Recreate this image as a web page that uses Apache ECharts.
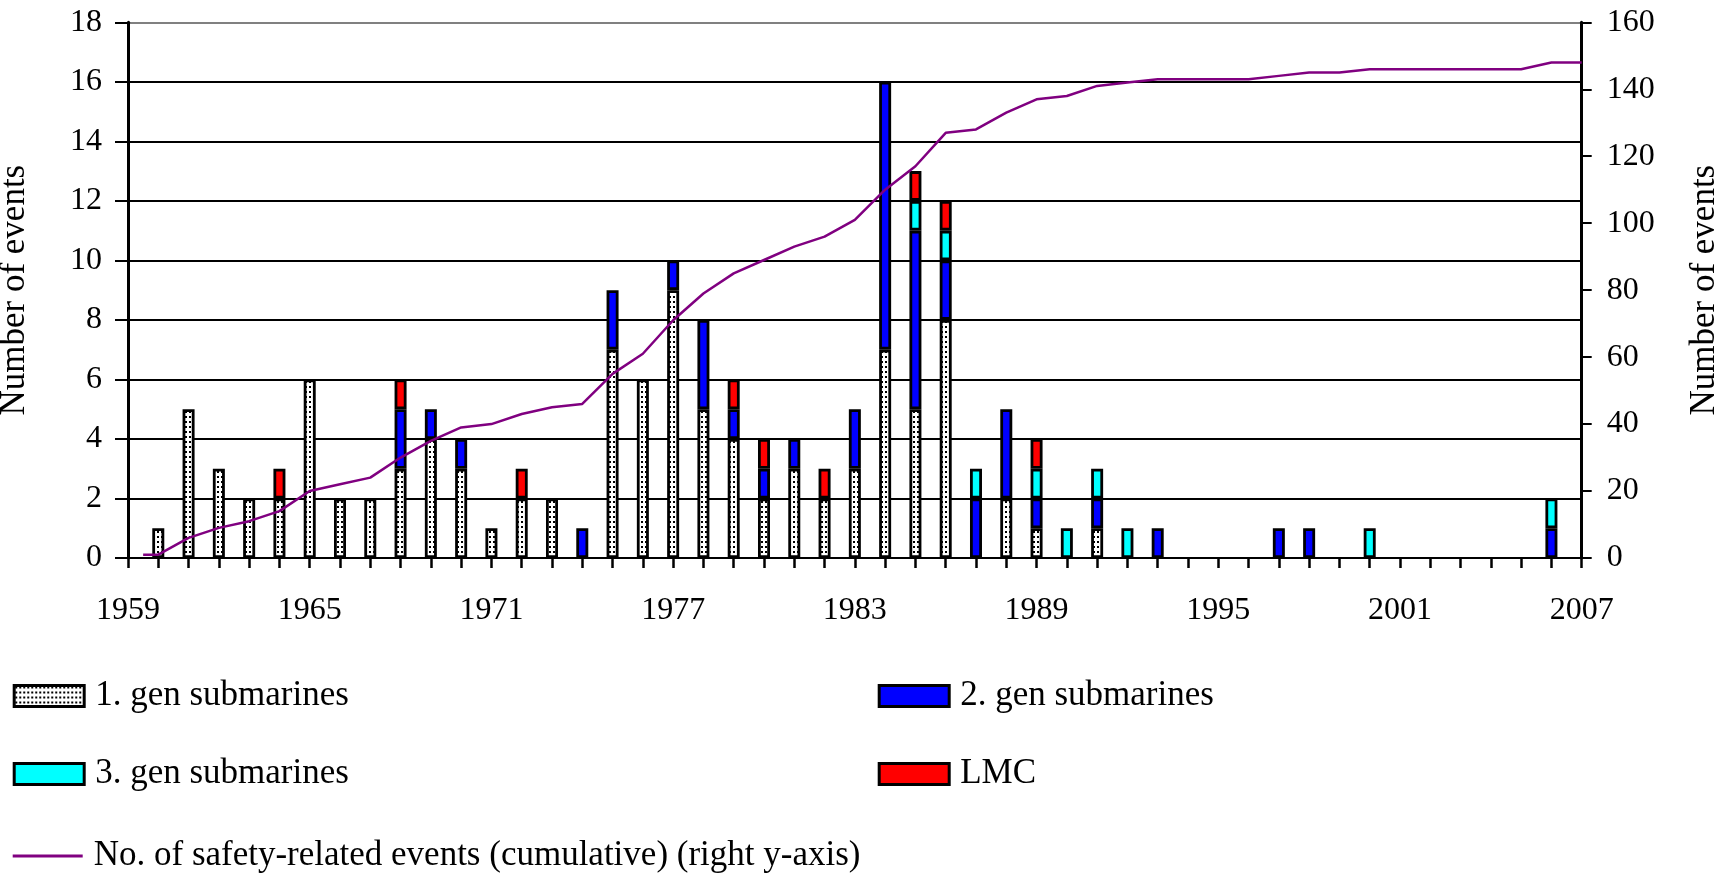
<!DOCTYPE html>
<html>
<head>
<meta charset="utf-8">
<script src="https://cdn.jsdelivr.net/npm/echarts@6/dist/echarts.min.js"></script>
<style>
html,body{margin:0;padding:0;background:#ffffff;}
#chart{width:1718px;height:874px;}
</style>
</head>
<body>
<div id="chart"></div>
<script>
// ---------- data ----------
const years = ['1959',
  '1960','1961','1962','1963','1964','1965','1966','1967','1968','1969',
  '1970','1971','1972','1973','1974','1975','1976','1977','1978','1979',
  '1980','1981','1982','1983','1984','1985','1986','1987','1988','1989',
  '1990','1991','1992','1993','1994','1995','1996','1997','1998','1999',
  '2000','2001','2002','2003','2004','2005','2006','2007'];

const gen1 = [0,
  1,5,3,2,2,6,2,2,3,4,
  3,1,2,2,0,7,6,9,5,4,
  2,3,2,3,7,5,8,0,2,1,
  0,1,0,0,0,0,0,0,0,0,
  0,0,0,0,0,0,0,0];
const gen2 = [0,
  0,0,0,0,0,0,0,0,2,1,
  1,0,0,0,1,2,0,1,3,1,
  1,1,0,2,9,6,2,2,3,1,
  0,1,0,1,0,0,0,1,1,0,
  0,0,0,0,0,0,1,0];
const gen3 = [0,
  0,0,0,0,0,0,0,0,0,0,
  0,0,0,0,0,0,0,0,0,0,
  0,0,0,0,0,1,1,1,0,1,
  1,1,1,0,0,0,0,0,0,0,
  1,0,0,0,0,0,1,0];
const lmc = [0,
  0,0,0,0,1,0,0,0,1,0,
  0,0,1,0,0,0,0,0,0,1,
  1,0,1,0,0,1,1,0,0,1,
  0,0,0,0,0,0,0,0,0,0,
  0,0,0,0,0,0,0,0];

const cumYears = [1959.5,
  1960,1961,1962,1963,1964,1965,1966,1967,1968,1969,
  1970,1971,1972,1973,1974,1975,1976,1977,1978,1979,
  1980,1981,1982,1983,1984,1985,1986,1987,1988,1989,
  1990,1991,1992,1993,1994,1995,1996,1997,1998,1999,
  2000,2001,2002,2003,2004,2005,2006,2007];
const cumEvents = [1,
  1,6,9,11,14,20,22,24,30,35,
  39,40,43,45,46,55,61,71,79,85,
  89,93,96,101,110,117,127,128,133,137,
  138,141,142,143,143,143,143,144,145,145,
  146,146,146,146,146,146,148,148];

const xTickLabels = ['1959','1965','1971','1977','1983','1989','1995','2001','2007'];
const leftTicks = [0,2,4,6,8,10,12,14,16,18];
const rightTicks = [0,20,40,60,80,100,120,140,160];

const seriesNames = ['1. gen submarines','2. gen submarines','3. gen submarines','LMC'];
const lineName = 'No. of safety-related events (cumulative) (right y-axis)';
const axisTitle = 'Number of events';

// ---------- styles ----------
const FONT = "'Liberation Serif', 'Times New Roman', serif";
const pc = document.createElement('canvas');
pc.width = 4; pc.height = 5;
const pg = pc.getContext('2d');
pg.fillStyle = '#ffffff'; pg.fillRect(0, 0, 4, 5);
pg.fillStyle = '#000000'; pg.fillRect(1, 1, 2, 2);
const dotPattern = {image: pc, repeat: 'repeat'};

const fills = [dotPattern, '#0000ff', '#00ffff', '#ff0000'];
const barValues = [gen1, gen2, gen3, lmc];

const toData = arr => arr.map(v => (v > 0 ? v : '-'));

const barSeries = seriesNames.map((name, i) => ({
  name: name,
  type: 'bar',
  stack: 'events',
  xAxisIndex: 0,
  yAxisIndex: 0,
  barWidth: 12,
  data: toData(barValues[i]),
  itemStyle: {color: fills[i], borderColor: '#000000', borderWidth: 2.8},
  emphasis: {disabled: true},
  z: 2
}));

const lineSeries = {
  name: lineName,
  type: 'line',
  xAxisIndex: 1,
  yAxisIndex: 1,
  data: cumYears.map((y, i) => [y, cumEvents[i]]),
  symbol: 'none',
  showSymbol: false,
  lineStyle: {color: '#800080', width: 2.5},
  itemStyle: {color: '#800080'},
  emphasis: {disabled: true},
  z: 5
};

const gridColors = leftTicks.map((t, i) => (i === leftTicks.length - 1 ? '#808080' : '#000000'));

const legendText = {fontFamily: FONT, fontSize: 35, color: '#000000', lineHeight: 35, padding: [0, 0, 0, 6]};
function mkLegend(item, left, top, h, bw) {
  return {
    data: [item], left: left, top: top, padding: 0, itemGap: 0,
    icon: 'rect',
    itemWidth: 70, itemHeight: h, selectedMode: false,
    itemStyle: {borderColor: '#000000', borderWidth: bw},
    textStyle: legendText
  };
}

const option = {
  animation: false,
  backgroundColor: '#ffffff',
  grid: {left: 128, right: 136.3, top: 22.3, bottom: 316, containLabel: false, outerBoundsMode: 'none'},
  legend: [
    mkLegend(seriesNames[0], 12.7, 678.5, 21, 3),
    mkLegend(seriesNames[1], 877.7, 678.5, 21, 3),
    mkLegend(seriesNames[2], 12.7, 756.5, 21, 3),
    mkLegend(seriesNames[3], 877.7, 756.5, 21, 3),
    mkLegend({name: lineName, icon: 'rect', itemStyle: {color: '#800080', borderWidth: 0}}, 12.7, 838.5, 3, 0)
  ],
  xAxis: [{
    type: 'category',
    data: years,
    boundaryGap: false,
    axisLine: {show: true, lineStyle: {color: '#000000', width: 2}},
    axisTick: {show: true, interval: 0, length: 10, lineStyle: {color: '#000000', width: 2.5}},
    axisLabel: {
      interval: (idx, val) => xTickLabels.indexOf(val) >= 0,
      fontFamily: FONT, fontSize: 32, color: '#000000', margin: 37
    },
    splitLine: {show: false}
  }, {
    type: 'value',
    min: 1959, max: 2007,
    show: false,
    splitLine: {show: false}
  }],
  yAxis: [{
    type: 'value',
    position: 'left',
    min: leftTicks[0], max: leftTicks[leftTicks.length - 1], interval: leftTicks[1] - leftTicks[0],
    axisLine: {show: true, lineStyle: {color: '#000000', width: 3}},
    axisTick: {show: true, length: 13, lineStyle: {color: '#000000', width: 2}},
    axisLabel: {fontFamily: FONT, fontSize: 32, color: '#000000', margin: 26, showMinLabel: true, showMaxLabel: true},
    splitLine: {show: true, lineStyle: {color: gridColors, width: 2}},
    name: axisTitle,
    nameLocation: 'middle',
    nameRotate: 90,
    nameGap: 96,
    nameMoveOverlap: false,
    nameTextStyle: {fontFamily: FONT, fontSize: 35, color: '#000000'}
  }, {
    type: 'value',
    position: 'right',
    min: rightTicks[0], max: rightTicks[rightTicks.length - 1], interval: rightTicks[1] - rightTicks[0],
    axisLine: {show: true, lineStyle: {color: '#000000', width: 3}},
    axisTick: {show: true, length: 10, lineStyle: {color: '#000000', width: 2}},
    axisLabel: {fontFamily: FONT, fontSize: 32, color: '#000000', margin: 25, showMinLabel: true, showMaxLabel: true},
    splitLine: {show: false},
    name: axisTitle,
    nameLocation: 'middle',
    nameRotate: 90,
    nameGap: 106,
    nameMoveOverlap: false,
    nameTextStyle: {fontFamily: FONT, fontSize: 35, color: '#000000'}
  }],
  series: barSeries.concat([lineSeries])
};

const chart = echarts.init(document.getElementById('chart'), null, {renderer: 'canvas'});
chart.setOption(option);
</script>
</body>
</html>
